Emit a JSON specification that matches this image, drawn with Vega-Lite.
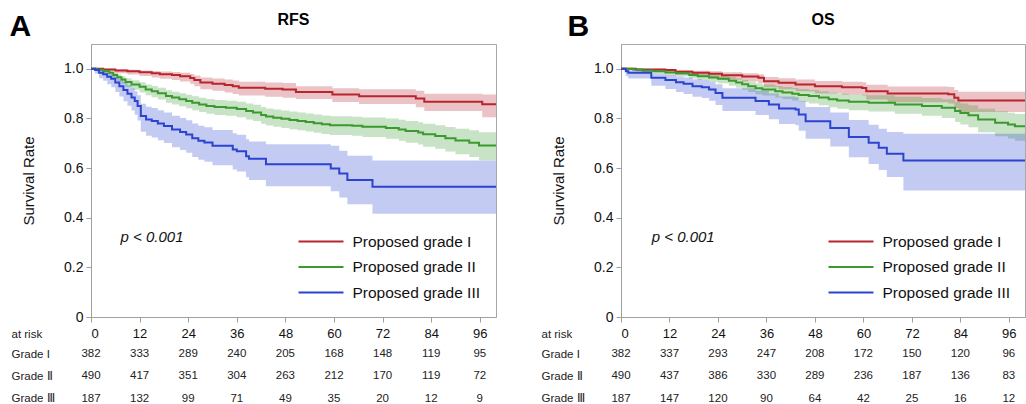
{
  "$schema": "https://vega.github.io/schema/vega-lite/v6.json",
  "padding": {"left": 9, "top": 11, "right": 0, "bottom": 0},
  "config": {
    "font": "Liberation Sans",
    "view": {"stroke": "#a8a8a8"},
    "axis": {"grid": false, "domainColor": "#a0a0a0", "tickColor": "#a0a0a0", "labelColor": "#111", "titleColor": "#111", "titleFontWeight": "normal"},
    "legend": {
      "orient": "none", "legendX": 217.5, "legendY": 185, "title": null,
      "symbolType": "M-2,0H2", "symbolSize": 506, "symbolStrokeWidth": 2, "symbolOpacity": 1,
      "labelFontSize": 15.5, "labelOffset": 19, "labelColor": "#111", "rowPadding": 4.5
    }
  },
  "datasets": {
    "km": [
      {"p":"RFS","g":"Proposed grade I","t":0,"s":1,"lo":1,"hi":1},
      {"p":"RFS","g":"Proposed grade I","t":3,"s":0.997,"lo":0.99,"hi":1},
      {"p":"RFS","g":"Proposed grade I","t":6,"s":0.993,"lo":0.982,"hi":0.998},
      {"p":"RFS","g":"Proposed grade I","t":9,"s":0.99,"lo":0.977,"hi":0.996},
      {"p":"RFS","g":"Proposed grade I","t":12,"s":0.986,"lo":0.971,"hi":0.993},
      {"p":"RFS","g":"Proposed grade I","t":15,"s":0.982,"lo":0.965,"hi":0.991},
      {"p":"RFS","g":"Proposed grade I","t":17,"s":0.978,"lo":0.96,"hi":0.989},
      {"p":"RFS","g":"Proposed grade I","t":20,"s":0.975,"lo":0.955,"hi":0.987},
      {"p":"RFS","g":"Proposed grade I","t":22,"s":0.97,"lo":0.949,"hi":0.984},
      {"p":"RFS","g":"Proposed grade I","t":24.5,"s":0.963,"lo":0.94,"hi":0.979},
      {"p":"RFS","g":"Proposed grade I","t":25.5,"s":0.955,"lo":0.93,"hi":0.973},
      {"p":"RFS","g":"Proposed grade I","t":27,"s":0.945,"lo":0.918,"hi":0.965},
      {"p":"RFS","g":"Proposed grade I","t":30,"s":0.94,"lo":0.912,"hi":0.961},
      {"p":"RFS","g":"Proposed grade I","t":33,"s":0.935,"lo":0.905,"hi":0.957},
      {"p":"RFS","g":"Proposed grade I","t":35,"s":0.93,"lo":0.899,"hi":0.953},
      {"p":"RFS","g":"Proposed grade I","t":36.5,"s":0.924,"lo":0.892,"hi":0.948},
      {"p":"RFS","g":"Proposed grade I","t":43,"s":0.92,"lo":0.887,"hi":0.945},
      {"p":"RFS","g":"Proposed grade I","t":47.3,"s":0.917,"lo":0.883,"hi":0.943},
      {"p":"RFS","g":"Proposed grade I","t":50.6,"s":0.907,"lo":0.878,"hi":0.93},
      {"p":"RFS","g":"Proposed grade I","t":59.6,"s":0.897,"lo":0.866,"hi":0.922},
      {"p":"RFS","g":"Proposed grade I","t":66.2,"s":0.889,"lo":0.858,"hi":0.918},
      {"p":"RFS","g":"Proposed grade I","t":80.2,"s":0.88,"lo":0.845,"hi":0.912},
      {"p":"RFS","g":"Proposed grade I","t":82.3,"s":0.867,"lo":0.83,"hi":0.9},
      {"p":"RFS","g":"Proposed grade I","t":96.6,"s":0.857,"lo":0.805,"hi":0.897},
      {"p":"RFS","g":"Proposed grade I","t":100,"s":0.857,"lo":0.805,"hi":0.897},

      {"p":"RFS","g":"Proposed grade II","t":0,"s":1,"lo":1,"hi":1},
      {"p":"RFS","g":"Proposed grade II","t":1.5,"s":0.996,"lo":0.99,"hi":0.999},
      {"p":"RFS","g":"Proposed grade II","t":3,"s":0.99,"lo":0.981,"hi":0.995},
      {"p":"RFS","g":"Proposed grade II","t":4.5,"s":0.984,"lo":0.973,"hi":0.991},
      {"p":"RFS","g":"Proposed grade II","t":5.5,"s":0.975,"lo":0.961,"hi":0.984},
      {"p":"RFS","g":"Proposed grade II","t":6.5,"s":0.966,"lo":0.95,"hi":0.977},
      {"p":"RFS","g":"Proposed grade II","t":7.5,"s":0.957,"lo":0.939,"hi":0.97},
      {"p":"RFS","g":"Proposed grade II","t":8.5,"s":0.947,"lo":0.927,"hi":0.962},
      {"p":"RFS","g":"Proposed grade II","t":10,"s":0.937,"lo":0.916,"hi":0.954},
      {"p":"RFS","g":"Proposed grade II","t":12,"s":0.928,"lo":0.905,"hi":0.946},
      {"p":"RFS","g":"Proposed grade II","t":13.5,"s":0.917,"lo":0.893,"hi":0.937},
      {"p":"RFS","g":"Proposed grade II","t":15,"s":0.91,"lo":0.885,"hi":0.931},
      {"p":"RFS","g":"Proposed grade II","t":16.5,"s":0.902,"lo":0.876,"hi":0.924},
      {"p":"RFS","g":"Proposed grade II","t":18.5,"s":0.89,"lo":0.863,"hi":0.914},
      {"p":"RFS","g":"Proposed grade II","t":20,"s":0.884,"lo":0.856,"hi":0.908},
      {"p":"RFS","g":"Proposed grade II","t":21.8,"s":0.877,"lo":0.849,"hi":0.902},
      {"p":"RFS","g":"Proposed grade II","t":23.5,"s":0.87,"lo":0.841,"hi":0.896},
      {"p":"RFS","g":"Proposed grade II","t":25,"s":0.863,"lo":0.833,"hi":0.889},
      {"p":"RFS","g":"Proposed grade II","t":26.7,"s":0.856,"lo":0.826,"hi":0.883},
      {"p":"RFS","g":"Proposed grade II","t":28.5,"s":0.85,"lo":0.819,"hi":0.878},
      {"p":"RFS","g":"Proposed grade II","t":30.5,"s":0.846,"lo":0.814,"hi":0.874},
      {"p":"RFS","g":"Proposed grade II","t":33.3,"s":0.843,"lo":0.811,"hi":0.871},
      {"p":"RFS","g":"Proposed grade II","t":36,"s":0.838,"lo":0.805,"hi":0.867},
      {"p":"RFS","g":"Proposed grade II","t":38.3,"s":0.83,"lo":0.796,"hi":0.86},
      {"p":"RFS","g":"Proposed grade II","t":40,"s":0.824,"lo":0.79,"hi":0.855},
      {"p":"RFS","g":"Proposed grade II","t":42,"s":0.814,"lo":0.779,"hi":0.846},
      {"p":"RFS","g":"Proposed grade II","t":43.2,"s":0.808,"lo":0.772,"hi":0.84},
      {"p":"RFS","g":"Proposed grade II","t":45,"s":0.803,"lo":0.767,"hi":0.836},
      {"p":"RFS","g":"Proposed grade II","t":47,"s":0.799,"lo":0.762,"hi":0.832},
      {"p":"RFS","g":"Proposed grade II","t":49,"s":0.794,"lo":0.757,"hi":0.828},
      {"p":"RFS","g":"Proposed grade II","t":51,"s":0.79,"lo":0.752,"hi":0.824},
      {"p":"RFS","g":"Proposed grade II","t":53,"s":0.786,"lo":0.747,"hi":0.82},
      {"p":"RFS","g":"Proposed grade II","t":55,"s":0.781,"lo":0.742,"hi":0.816},
      {"p":"RFS","g":"Proposed grade II","t":57,"s":0.777,"lo":0.737,"hi":0.812},
      {"p":"RFS","g":"Proposed grade II","t":59,"s":0.773,"lo":0.733,"hi":0.809},
      {"p":"RFS","g":"Proposed grade II","t":64.5,"s":0.771,"lo":0.73,"hi":0.807},
      {"p":"RFS","g":"Proposed grade II","t":67,"s":0.767,"lo":0.725,"hi":0.804},
      {"p":"RFS","g":"Proposed grade II","t":72.8,"s":0.762,"lo":0.718,"hi":0.8},
      {"p":"RFS","g":"Proposed grade II","t":76,"s":0.755,"lo":0.71,"hi":0.795},
      {"p":"RFS","g":"Proposed grade II","t":77.7,"s":0.749,"lo":0.702,"hi":0.79},
      {"p":"RFS","g":"Proposed grade II","t":80.8,"s":0.743,"lo":0.695,"hi":0.785},
      {"p":"RFS","g":"Proposed grade II","t":82,"s":0.736,"lo":0.686,"hi":0.779},
      {"p":"RFS","g":"Proposed grade II","t":85,"s":0.729,"lo":0.678,"hi":0.773},
      {"p":"RFS","g":"Proposed grade II","t":87.5,"s":0.72,"lo":0.667,"hi":0.766},
      {"p":"RFS","g":"Proposed grade II","t":90,"s":0.711,"lo":0.656,"hi":0.759},
      {"p":"RFS","g":"Proposed grade II","t":93.4,"s":0.702,"lo":0.645,"hi":0.752},
      {"p":"RFS","g":"Proposed grade II","t":95.8,"s":0.691,"lo":0.632,"hi":0.744},
      {"p":"RFS","g":"Proposed grade II","t":100,"s":0.691,"lo":0.632,"hi":0.744},

      {"p":"RFS","g":"Proposed grade III","t":0,"s":1,"lo":1,"hi":1},
      {"p":"RFS","g":"Proposed grade III","t":1,"s":0.995,"lo":0.98,"hi":1},
      {"p":"RFS","g":"Proposed grade III","t":2,"s":0.984,"lo":0.962,"hi":0.995},
      {"p":"RFS","g":"Proposed grade III","t":3,"s":0.978,"lo":0.952,"hi":0.991},
      {"p":"RFS","g":"Proposed grade III","t":4,"s":0.968,"lo":0.938,"hi":0.984},
      {"p":"RFS","g":"Proposed grade III","t":5,"s":0.96,"lo":0.926,"hi":0.979},
      {"p":"RFS","g":"Proposed grade III","t":6,"s":0.945,"lo":0.907,"hi":0.968},
      {"p":"RFS","g":"Proposed grade III","t":7,"s":0.93,"lo":0.888,"hi":0.957},
      {"p":"RFS","g":"Proposed grade III","t":8,"s":0.915,"lo":0.869,"hi":0.946},
      {"p":"RFS","g":"Proposed grade III","t":9,"s":0.9,"lo":0.851,"hi":0.934},
      {"p":"RFS","g":"Proposed grade III","t":10,"s":0.884,"lo":0.832,"hi":0.921},
      {"p":"RFS","g":"Proposed grade III","t":10.8,"s":0.87,"lo":0.815,"hi":0.91},
      {"p":"RFS","g":"Proposed grade III","t":11.5,"s":0.85,"lo":0.792,"hi":0.893},
      {"p":"RFS","g":"Proposed grade III","t":12.3,"s":0.81,"lo":0.746,"hi":0.859},
      {"p":"RFS","g":"Proposed grade III","t":13.6,"s":0.796,"lo":0.73,"hi":0.847},
      {"p":"RFS","g":"Proposed grade III","t":15,"s":0.79,"lo":0.723,"hi":0.842},
      {"p":"RFS","g":"Proposed grade III","t":16.5,"s":0.78,"lo":0.712,"hi":0.833},
      {"p":"RFS","g":"Proposed grade III","t":18,"s":0.77,"lo":0.701,"hi":0.824},
      {"p":"RFS","g":"Proposed grade III","t":20,"s":0.755,"lo":0.684,"hi":0.811},
      {"p":"RFS","g":"Proposed grade III","t":22,"s":0.745,"lo":0.673,"hi":0.802},
      {"p":"RFS","g":"Proposed grade III","t":23.5,"s":0.735,"lo":0.662,"hi":0.793},
      {"p":"RFS","g":"Proposed grade III","t":25,"s":0.72,"lo":0.645,"hi":0.78},
      {"p":"RFS","g":"Proposed grade III","t":26.5,"s":0.71,"lo":0.634,"hi":0.771},
      {"p":"RFS","g":"Proposed grade III","t":28,"s":0.703,"lo":0.626,"hi":0.765},
      {"p":"RFS","g":"Proposed grade III","t":30,"s":0.69,"lo":0.611,"hi":0.753},
      {"p":"RFS","g":"Proposed grade III","t":35,"s":0.675,"lo":0.594,"hi":0.74},
      {"p":"RFS","g":"Proposed grade III","t":36,"s":0.668,"lo":0.586,"hi":0.734},
      {"p":"RFS","g":"Proposed grade III","t":38.3,"s":0.648,"lo":0.563,"hi":0.716},
      {"p":"RFS","g":"Proposed grade III","t":39,"s":0.638,"lo":0.552,"hi":0.707},
      {"p":"RFS","g":"Proposed grade III","t":43.2,"s":0.615,"lo":0.527,"hi":0.696},
      {"p":"RFS","g":"Proposed grade III","t":59.2,"s":0.598,"lo":0.507,"hi":0.69},
      {"p":"RFS","g":"Proposed grade III","t":61.3,"s":0.578,"lo":0.482,"hi":0.67},
      {"p":"RFS","g":"Proposed grade III","t":63.3,"s":0.552,"lo":0.454,"hi":0.65},
      {"p":"RFS","g":"Proposed grade III","t":69.5,"s":0.525,"lo":0.416,"hi":0.631},
      {"p":"RFS","g":"Proposed grade III","t":100,"s":0.525,"lo":0.416,"hi":0.631},

      {"p":"OS","g":"Proposed grade I","t":0,"s":1,"lo":1,"hi":1},
      {"p":"OS","g":"Proposed grade I","t":3.7,"s":0.997,"lo":0.99,"hi":1},
      {"p":"OS","g":"Proposed grade I","t":11,"s":0.995,"lo":0.986,"hi":0.999},
      {"p":"OS","g":"Proposed grade I","t":13.5,"s":0.988,"lo":0.976,"hi":0.995},
      {"p":"OS","g":"Proposed grade I","t":17.7,"s":0.984,"lo":0.97,"hi":0.992},
      {"p":"OS","g":"Proposed grade I","t":21.8,"s":0.98,"lo":0.964,"hi":0.99},
      {"p":"OS","g":"Proposed grade I","t":25,"s":0.974,"lo":0.956,"hi":0.986},
      {"p":"OS","g":"Proposed grade I","t":30,"s":0.969,"lo":0.949,"hi":0.982},
      {"p":"OS","g":"Proposed grade I","t":34,"s":0.964,"lo":0.943,"hi":0.978},
      {"p":"OS","g":"Proposed grade I","t":35.4,"s":0.95,"lo":0.926,"hi":0.967},
      {"p":"OS","g":"Proposed grade I","t":39,"s":0.944,"lo":0.918,"hi":0.962},
      {"p":"OS","g":"Proposed grade I","t":43.2,"s":0.937,"lo":0.91,"hi":0.957},
      {"p":"OS","g":"Proposed grade I","t":48,"s":0.93,"lo":0.901,"hi":0.951},
      {"p":"OS","g":"Proposed grade I","t":54.7,"s":0.926,"lo":0.896,"hi":0.948},
      {"p":"OS","g":"Proposed grade I","t":59.7,"s":0.923,"lo":0.892,"hi":0.946},
      {"p":"OS","g":"Proposed grade I","t":60.7,"s":0.91,"lo":0.876,"hi":0.936},
      {"p":"OS","g":"Proposed grade I","t":66,"s":0.901,"lo":0.865,"hi":0.929},
      {"p":"OS","g":"Proposed grade I","t":81,"s":0.898,"lo":0.86,"hi":0.927},
      {"p":"OS","g":"Proposed grade I","t":82.5,"s":0.883,"lo":0.842,"hi":0.915},
      {"p":"OS","g":"Proposed grade I","t":83.5,"s":0.872,"lo":0.826,"hi":0.908},
      {"p":"OS","g":"Proposed grade I","t":100,"s":0.872,"lo":0.823,"hi":0.91},

      {"p":"OS","g":"Proposed grade II","t":0,"s":1,"lo":1,"hi":1},
      {"p":"OS","g":"Proposed grade II","t":3,"s":0.997,"lo":0.992,"hi":0.999},
      {"p":"OS","g":"Proposed grade II","t":5.3,"s":0.993,"lo":0.986,"hi":0.997},
      {"p":"OS","g":"Proposed grade II","t":8,"s":0.99,"lo":0.981,"hi":0.995},
      {"p":"OS","g":"Proposed grade II","t":11,"s":0.985,"lo":0.974,"hi":0.992},
      {"p":"OS","g":"Proposed grade II","t":13.6,"s":0.982,"lo":0.97,"hi":0.99},
      {"p":"OS","g":"Proposed grade II","t":16.9,"s":0.975,"lo":0.961,"hi":0.985},
      {"p":"OS","g":"Proposed grade II","t":19,"s":0.97,"lo":0.955,"hi":0.981},
      {"p":"OS","g":"Proposed grade II","t":21.8,"s":0.965,"lo":0.948,"hi":0.977},
      {"p":"OS","g":"Proposed grade II","t":24,"s":0.96,"lo":0.942,"hi":0.974},
      {"p":"OS","g":"Proposed grade II","t":26.7,"s":0.952,"lo":0.932,"hi":0.967},
      {"p":"OS","g":"Proposed grade II","t":28.5,"s":0.945,"lo":0.924,"hi":0.961},
      {"p":"OS","g":"Proposed grade II","t":30,"s":0.938,"lo":0.916,"hi":0.955},
      {"p":"OS","g":"Proposed grade II","t":31.5,"s":0.93,"lo":0.907,"hi":0.948},
      {"p":"OS","g":"Proposed grade II","t":33.3,"s":0.922,"lo":0.898,"hi":0.942},
      {"p":"OS","g":"Proposed grade II","t":35,"s":0.917,"lo":0.892,"hi":0.937},
      {"p":"OS","g":"Proposed grade II","t":38.2,"s":0.91,"lo":0.884,"hi":0.931},
      {"p":"OS","g":"Proposed grade II","t":40,"s":0.905,"lo":0.878,"hi":0.927},
      {"p":"OS","g":"Proposed grade II","t":42.4,"s":0.9,"lo":0.872,"hi":0.923},
      {"p":"OS","g":"Proposed grade II","t":44,"s":0.895,"lo":0.866,"hi":0.919},
      {"p":"OS","g":"Proposed grade II","t":46.5,"s":0.89,"lo":0.86,"hi":0.915},
      {"p":"OS","g":"Proposed grade II","t":49,"s":0.884,"lo":0.853,"hi":0.91},
      {"p":"OS","g":"Proposed grade II","t":51.4,"s":0.877,"lo":0.845,"hi":0.904},
      {"p":"OS","g":"Proposed grade II","t":53.5,"s":0.872,"lo":0.839,"hi":0.9},
      {"p":"OS","g":"Proposed grade II","t":56.4,"s":0.867,"lo":0.833,"hi":0.896},
      {"p":"OS","g":"Proposed grade II","t":61.3,"s":0.863,"lo":0.828,"hi":0.893},
      {"p":"OS","g":"Proposed grade II","t":67.8,"s":0.856,"lo":0.819,"hi":0.887},
      {"p":"OS","g":"Proposed grade II","t":74.5,"s":0.85,"lo":0.811,"hi":0.882},
      {"p":"OS","g":"Proposed grade II","t":79.4,"s":0.843,"lo":0.802,"hi":0.877},
      {"p":"OS","g":"Proposed grade II","t":82.7,"s":0.83,"lo":0.786,"hi":0.866},
      {"p":"OS","g":"Proposed grade II","t":84,"s":0.822,"lo":0.776,"hi":0.86},
      {"p":"OS","g":"Proposed grade II","t":86,"s":0.813,"lo":0.765,"hi":0.853},
      {"p":"OS","g":"Proposed grade II","t":88.4,"s":0.796,"lo":0.744,"hi":0.839},
      {"p":"OS","g":"Proposed grade II","t":92.6,"s":0.783,"lo":0.728,"hi":0.829},
      {"p":"OS","g":"Proposed grade II","t":95.8,"s":0.776,"lo":0.719,"hi":0.823},
      {"p":"OS","g":"Proposed grade II","t":97.5,"s":0.769,"lo":0.71,"hi":0.818},
      {"p":"OS","g":"Proposed grade II","t":100,"s":0.769,"lo":0.71,"hi":0.818},

      {"p":"OS","g":"Proposed grade III","t":0,"s":1,"lo":1,"hi":1},
      {"p":"OS","g":"Proposed grade III","t":1.2,"s":0.99,"lo":0.97,"hi":0.998},
      {"p":"OS","g":"Proposed grade III","t":1.8,"s":0.984,"lo":0.961,"hi":0.994},
      {"p":"OS","g":"Proposed grade III","t":7.5,"s":0.964,"lo":0.932,"hi":0.981},
      {"p":"OS","g":"Proposed grade III","t":11,"s":0.955,"lo":0.919,"hi":0.975},
      {"p":"OS","g":"Proposed grade III","t":13.6,"s":0.946,"lo":0.907,"hi":0.969},
      {"p":"OS","g":"Proposed grade III","t":15.5,"s":0.94,"lo":0.899,"hi":0.965},
      {"p":"OS","g":"Proposed grade III","t":17.7,"s":0.93,"lo":0.887,"hi":0.958},
      {"p":"OS","g":"Proposed grade III","t":20,"s":0.926,"lo":0.882,"hi":0.955},
      {"p":"OS","g":"Proposed grade III","t":21.8,"s":0.917,"lo":0.871,"hi":0.948},
      {"p":"OS","g":"Proposed grade III","t":23.4,"s":0.903,"lo":0.854,"hi":0.938},
      {"p":"OS","g":"Proposed grade III","t":25.1,"s":0.883,"lo":0.83,"hi":0.922},
      {"p":"OS","g":"Proposed grade III","t":33.3,"s":0.87,"lo":0.814,"hi":0.912},
      {"p":"OS","g":"Proposed grade III","t":36.6,"s":0.856,"lo":0.797,"hi":0.901},
      {"p":"OS","g":"Proposed grade III","t":39.1,"s":0.84,"lo":0.778,"hi":0.888},
      {"p":"OS","g":"Proposed grade III","t":43.2,"s":0.836,"lo":0.773,"hi":0.885},
      {"p":"OS","g":"Proposed grade III","t":44,"s":0.816,"lo":0.75,"hi":0.869},
      {"p":"OS","g":"Proposed grade III","t":45.7,"s":0.789,"lo":0.718,"hi":0.846},
      {"p":"OS","g":"Proposed grade III","t":51.8,"s":0.762,"lo":0.687,"hi":0.824},
      {"p":"OS","g":"Proposed grade III","t":56.4,"s":0.725,"lo":0.644,"hi":0.794},
      {"p":"OS","g":"Proposed grade III","t":61.3,"s":0.702,"lo":0.616,"hi":0.775},
      {"p":"OS","g":"Proposed grade III","t":63.8,"s":0.682,"lo":0.592,"hi":0.759},
      {"p":"OS","g":"Proposed grade III","t":65.8,"s":0.658,"lo":0.564,"hi":0.745},
      {"p":"OS","g":"Proposed grade III","t":69.9,"s":0.631,"lo":0.51,"hi":0.738},
      {"p":"OS","g":"Proposed grade III","t":100,"s":0.631,"lo":0.51,"hi":0.738}
    ],
    "risk": [
      {"p":"RFS","row":"Grade I","t":0,"n":382},{"p":"RFS","row":"Grade I","t":12,"n":333},{"p":"RFS","row":"Grade I","t":24,"n":289},{"p":"RFS","row":"Grade I","t":36,"n":240},{"p":"RFS","row":"Grade I","t":48,"n":205},{"p":"RFS","row":"Grade I","t":60,"n":168},{"p":"RFS","row":"Grade I","t":72,"n":148},{"p":"RFS","row":"Grade I","t":84,"n":119},{"p":"RFS","row":"Grade I","t":96,"n":95},
      {"p":"RFS","row":"Grade Ⅱ","t":0,"n":490},{"p":"RFS","row":"Grade Ⅱ","t":12,"n":417},{"p":"RFS","row":"Grade Ⅱ","t":24,"n":351},{"p":"RFS","row":"Grade Ⅱ","t":36,"n":304},{"p":"RFS","row":"Grade Ⅱ","t":48,"n":263},{"p":"RFS","row":"Grade Ⅱ","t":60,"n":212},{"p":"RFS","row":"Grade Ⅱ","t":72,"n":170},{"p":"RFS","row":"Grade Ⅱ","t":84,"n":119},{"p":"RFS","row":"Grade Ⅱ","t":96,"n":72},
      {"p":"RFS","row":"Grade Ⅲ","t":0,"n":187},{"p":"RFS","row":"Grade Ⅲ","t":12,"n":132},{"p":"RFS","row":"Grade Ⅲ","t":24,"n":99},{"p":"RFS","row":"Grade Ⅲ","t":36,"n":71},{"p":"RFS","row":"Grade Ⅲ","t":48,"n":49},{"p":"RFS","row":"Grade Ⅲ","t":60,"n":35},{"p":"RFS","row":"Grade Ⅲ","t":72,"n":20},{"p":"RFS","row":"Grade Ⅲ","t":84,"n":12},{"p":"RFS","row":"Grade Ⅲ","t":96,"n":9},
      {"p":"OS","row":"Grade I","t":0,"n":382},{"p":"OS","row":"Grade I","t":12,"n":337},{"p":"OS","row":"Grade I","t":24,"n":293},{"p":"OS","row":"Grade I","t":36,"n":247},{"p":"OS","row":"Grade I","t":48,"n":208},{"p":"OS","row":"Grade I","t":60,"n":172},{"p":"OS","row":"Grade I","t":72,"n":150},{"p":"OS","row":"Grade I","t":84,"n":120},{"p":"OS","row":"Grade I","t":96,"n":96},
      {"p":"OS","row":"Grade Ⅱ","t":0,"n":490},{"p":"OS","row":"Grade Ⅱ","t":12,"n":437},{"p":"OS","row":"Grade Ⅱ","t":24,"n":386},{"p":"OS","row":"Grade Ⅱ","t":36,"n":330},{"p":"OS","row":"Grade Ⅱ","t":48,"n":289},{"p":"OS","row":"Grade Ⅱ","t":60,"n":236},{"p":"OS","row":"Grade Ⅱ","t":72,"n":187},{"p":"OS","row":"Grade Ⅱ","t":84,"n":136},{"p":"OS","row":"Grade Ⅱ","t":96,"n":83},
      {"p":"OS","row":"Grade Ⅲ","t":0,"n":187},{"p":"OS","row":"Grade Ⅲ","t":12,"n":147},{"p":"OS","row":"Grade Ⅲ","t":24,"n":120},{"p":"OS","row":"Grade Ⅲ","t":36,"n":90},{"p":"OS","row":"Grade Ⅲ","t":48,"n":64},{"p":"OS","row":"Grade Ⅲ","t":60,"n":42},{"p":"OS","row":"Grade Ⅲ","t":72,"n":25},{"p":"OS","row":"Grade Ⅲ","t":84,"n":16},{"p":"OS","row":"Grade Ⅲ","t":96,"n":12}
    ]
  },
  "resolve": {"scale": {"color": "independent", "x": "independent", "y": "independent"}, "legend": {"color": "independent"}},
  "spacing": 39,
  "hconcat": [
    {
      "title": {"text": "A", "fontSize": 30, "fontWeight": "bold", "anchor": "start", "frame": "bounds", "dx": -1, "dy": 30, "offset": 0, "color": "#000"},
      "resolve": {"scale": {"color": "independent"}, "legend": {"color": "independent"}},
      "bounds": "flush",
      "spacing": 37,
      "vconcat": [
        {
          "width": 405, "height": 273,
          "title": {"text": "RFS", "fontSize": 16, "fontWeight": "bold", "anchor": "middle", "offset": 16, "color": "#000"},
          "layer": [
            {
              "data": {"name": "km"},
              "transform": [{"filter": "datum.p == 'RFS'"}],
              "mark": {"type": "area", "interpolate": "step-after", "opacity": 0.28},
              "encoding": {
                "x": {"field": "t", "type": "quantitative", "scale": {"domain": [0, 100], "nice": false},
                  "axis": {"values": [0,6,12,18,24,30,36,42,48,54,60,66,72,78,84,90,96], "labelExpr": "datum.value % 12 == 0 ? datum.label : ''", "labelFontSize": 13, "labelPadding": 5, "tickSize": 5, "title": "at risk", "titleFontSize": 11.5, "titleX": -80, "titleY": 17, "titleAlign": "left", "titleBaseline": "middle", "titleColor": "#222"}},
                "y": {"field": "lo", "type": "quantitative", "scale": {"domain": [0, 1.1], "nice": false},
                  "axis": {"values": [0,0.1,0.2,0.3,0.4,0.5,0.6,0.7,0.8,0.9,1.0], "labelExpr": "round(datum.value*10) % 2 == 1 ? '' : (datum.value == 0 ? '0' : format(datum.value, '.1f'))", "labelFontSize": 14, "labelPadding": 3, "tickSize": 5, "title": "Survival Rate", "titleFontSize": 15, "titleX": -63, "titleY": 136.5, "titleAngle": 270, "titleAlign": "center", "titleBaseline": "middle"}},
                "y2": {"field": "hi"},
                "color": {"field": "g", "type": "nominal", "scale": {"domain": ["Proposed grade I", "Proposed grade II", "Proposed grade III"], "range": ["#b8252d", "#3a9a2e", "#2b44d0"]}}
              }
            },
            {
              "data": {"name": "km"},
              "transform": [{"filter": "datum.p == 'RFS'"}],
              "mark": {"type": "line", "interpolate": "step-after", "strokeWidth": 2},
              "encoding": {
                "x": {"field": "t", "type": "quantitative"},
                "y": {"field": "s", "type": "quantitative"},
                "color": {"field": "g", "type": "nominal"}
              }
            },
            {
              "data": {"values": [{"label": "p < 0.001"}]},
              "mark": {"type": "text", "fontSize": 15, "fontStyle": "italic", "align": "left", "baseline": "middle", "color": "#111"},
              "encoding": {"x": {"datum": 7.3}, "y": {"datum": 0.322}, "text": {"field": "label"}}
            }
          ]
        },
        {
          "width": 405, "height": 44.5,
          "view": {"stroke": null},
          "data": {"name": "risk"},
          "transform": [{"filter": "datum.p == 'RFS'"}],
          "mark": {"type": "text", "fontSize": 11.5, "color": "#222"},
          "encoding": {
            "x": {"field": "t", "type": "quantitative", "scale": {"domain": [0, 100], "nice": false}, "axis": null},
            "y": {"field": "row", "type": "ordinal", "sort": ["Grade I", "Grade Ⅱ", "Grade Ⅲ"], "scale": {"type": "point", "padding": 0},
              "axis": {"title": null, "domain": false, "ticks": false, "labelAlign": "left", "labelPadding": 80, "labelFontSize": 11.5, "labelColor": "#222"}},
            "text": {"field": "n"}
          }
        }
      ]
    },
    {
      "title": {"text": "B", "fontSize": 30, "fontWeight": "bold", "anchor": "start", "frame": "bounds", "dx": 27, "dy": 30, "offset": 0, "color": "#000"},
      "resolve": {"scale": {"color": "independent"}, "legend": {"color": "independent"}},
      "bounds": "flush",
      "spacing": 37,
      "vconcat": [
        {
          "width": 404, "height": 273,
          "title": {"text": "OS", "fontSize": 16, "fontWeight": "bold", "anchor": "middle", "offset": 16, "color": "#000"},
          "layer": [
            {
              "data": {"name": "km"},
              "transform": [{"filter": "datum.p == 'OS'"}],
              "mark": {"type": "area", "interpolate": "step-after", "opacity": 0.28},
              "encoding": {
                "x": {"field": "t", "type": "quantitative", "scale": {"domain": [0, 100], "nice": false},
                  "axis": {"values": [0,6,12,18,24,30,36,42,48,54,60,66,72,78,84,90,96], "labelExpr": "datum.value % 12 == 0 ? datum.label : ''", "labelFontSize": 13, "labelPadding": 5, "tickSize": 5, "title": "at risk", "titleFontSize": 11.5, "titleX": -80, "titleY": 17, "titleAlign": "left", "titleBaseline": "middle", "titleColor": "#222"}},
                "y": {"field": "lo", "type": "quantitative", "scale": {"domain": [0, 1.1], "nice": false},
                  "axis": {"values": [0,0.1,0.2,0.3,0.4,0.5,0.6,0.7,0.8,0.9,1.0], "labelExpr": "round(datum.value*10) % 2 == 1 ? '' : (datum.value == 0 ? '0' : format(datum.value, '.1f'))", "labelFontSize": 14, "labelPadding": 3, "tickSize": 5, "title": "Survival Rate", "titleFontSize": 15, "titleX": -63, "titleY": 136.5, "titleAngle": 270, "titleAlign": "center", "titleBaseline": "middle"}},
                "y2": {"field": "hi"},
                "color": {"field": "g", "type": "nominal", "scale": {"domain": ["Proposed grade I", "Proposed grade II", "Proposed grade III"], "range": ["#b8252d", "#3a9a2e", "#2b44d0"]}}
              }
            },
            {
              "data": {"name": "km"},
              "transform": [{"filter": "datum.p == 'OS'"}],
              "mark": {"type": "line", "interpolate": "step-after", "strokeWidth": 2},
              "encoding": {
                "x": {"field": "t", "type": "quantitative"},
                "y": {"field": "s", "type": "quantitative"},
                "color": {"field": "g", "type": "nominal"}
              }
            },
            {
              "data": {"values": [{"label": "p < 0.001"}]},
              "mark": {"type": "text", "fontSize": 15, "fontStyle": "italic", "align": "left", "baseline": "middle", "color": "#111"},
              "encoding": {"x": {"datum": 7.6}, "y": {"datum": 0.322}, "text": {"field": "label"}}
            }
          ]
        },
        {
          "width": 404, "height": 44.5,
          "view": {"stroke": null},
          "data": {"name": "risk"},
          "transform": [{"filter": "datum.p == 'OS'"}],
          "mark": {"type": "text", "fontSize": 11.5, "color": "#222"},
          "encoding": {
            "x": {"field": "t", "type": "quantitative", "scale": {"domain": [0, 100], "nice": false}, "axis": null},
            "y": {"field": "row", "type": "ordinal", "sort": ["Grade I", "Grade Ⅱ", "Grade Ⅲ"], "scale": {"type": "point", "padding": 0},
              "axis": {"title": null, "domain": false, "ticks": false, "labelAlign": "left", "labelPadding": 80, "labelFontSize": 11.5, "labelColor": "#222"}},
            "text": {"field": "n"}
          }
        }
      ]
    }
  ]
}
